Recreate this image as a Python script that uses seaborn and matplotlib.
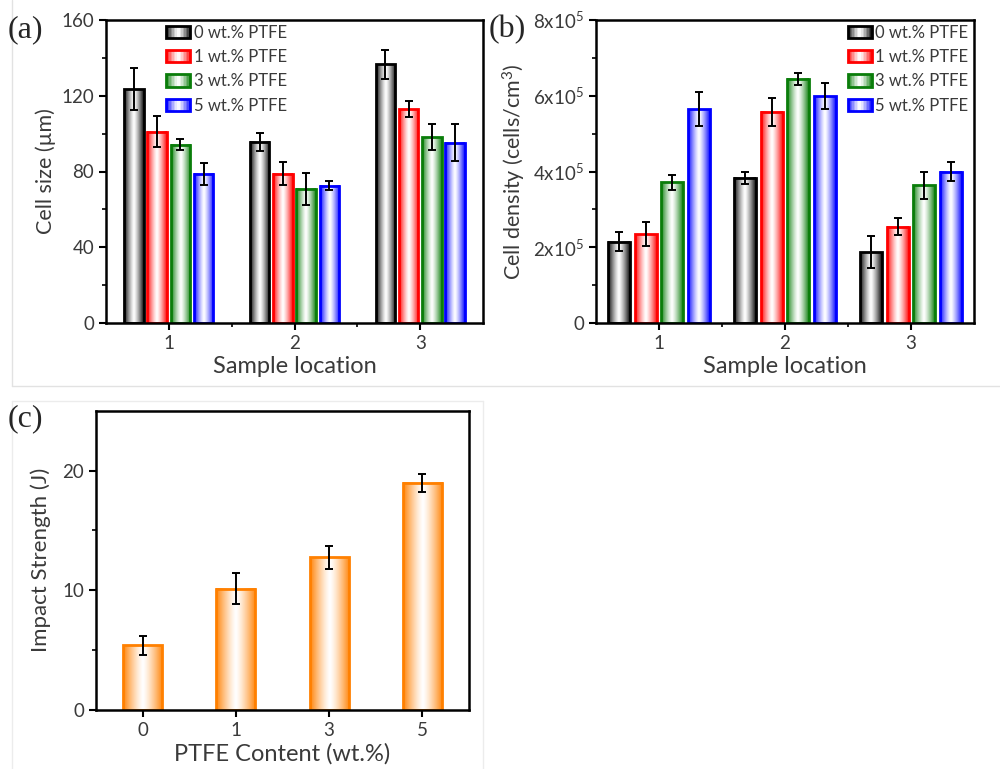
import numpy as np
import pandas as pd
import matplotlib
matplotlib.use("Agg")
import matplotlib.pyplot as plt
import seaborn as sns
from matplotlib.patches import Patch, Rectangle
from matplotlib.legend_handler import HandlerBase
from matplotlib.ticker import FixedLocator, FixedFormatter
from matplotlib.lines import Line2D
import matplotlib.colors as mcolors

# ---------------- data ----------------
locations = ["1", "2", "3"]
ptfe_levels = ["0 wt.% PTFE", "1 wt.% PTFE", "3 wt.% PTFE", "5 wt.% PTFE"]
level_colors = ["#000000", "#ff0000", "#0a7d0a", "#0000ff"]

# (a) cell size (um)
size_0 = [123.5, 95.6, 136.6]
size_1 = [101.0, 78.8, 113.0]
size_3 = [94.1, 70.8, 98.2]
size_5 = [78.7, 72.5, 95.2]
size_err_0 = [11.1, 4.6, 7.7]
size_err_1 = [8.2, 6.0, 4.0]
size_err_3 = [2.8, 8.3, 7.0]
size_err_5 = [5.9, 2.3, 9.8]

# (b) cell density (x10^5 cells/cm^3)
density_0 = [2.15, 3.83, 1.87]
density_1 = [2.34, 5.58, 2.54]
density_3 = [3.71, 6.45, 3.64]
density_5 = [5.65, 5.99, 4.00]
density_err_0 = [0.24, 0.17, 0.43]
density_err_1 = [0.32, 0.37, 0.22]
density_err_3 = [0.20, 0.16, 0.36]
density_err_5 = [0.44, 0.34, 0.26]

# (c) impact strength (J)
ptfe_content = ["0", "1", "3", "5"]
impact = [5.42, 10.14, 12.75, 18.97]
impact_err = [0.80, 1.30, 0.97, 0.72]
impact_color = "#ff8000"

density_ticks = [0, 2, 4, 6, 8]
density_ticklabels = ["0", r"$\mathregular{2x10^{5}}$", r"$\mathregular{4x10^{5}}$",
                      r"$\mathregular{6x10^{5}}$", r"$\mathregular{8x10^{5}}$"]

# ---------------- style ----------------
sns.set_theme(style="ticks")
plt.rcParams["font.family"] = ["Lato", "DejaVu Sans"]
plt.rcParams["mathtext.fontset"] = "custom"
plt.rcParams["mathtext.rm"] = "Lato"
plt.rcParams["mathtext.it"] = "Lato:italic"
plt.rcParams["mathtext.bf"] = "Lato:bold"
plt.rcParams["axes.edgecolor"] = "black"
plt.rcParams["axes.linewidth"] = 1.8

TXT = "#3a3a3a"
TICK_FS = 13.5
XLABEL_FS = 17
YLABEL_FS = 15.5
LEG_FS = 12


def grad_color(color, t):
    w = np.abs(2 * t - 1) ** 1.3
    c = np.array(mcolors.to_rgb(color))
    out = (1 - w)[:, None] * np.ones(3) + w[:, None] * (c * 0.95 + 0.05)
    return np.clip(out, 0.0, 1.0)


def add_gradients(ax, patch, color):
    x0, y0 = patch.get_x(), patch.get_y()
    w, h = patch.get_width(), patch.get_height()
    t = np.linspace(0, 1, 64)
    img = grad_color(color, t)[None, :, :]
    ax.imshow(img, extent=[x0, x0 + w, y0, y0 + h], aspect="auto",
              zorder=patch.get_zorder() - 0.01, interpolation="bilinear")


class GradientHandler(HandlerBase):
    def create_artists(self, legend, orig_handle, xdescent, ydescent,
                       width, height, fontsize, trans):
        color = orig_handle.get_edgecolor()
        n = 16
        t = (np.arange(n) + 0.5) / n
        cols = grad_color(color, t)
        arts = []
        for k in range(n):
            arts.append(Rectangle((-xdescent + k * width / n, -ydescent), width / n, height,
                                  facecolor=tuple(cols[k]), edgecolor="none", transform=trans))
        arts.append(Rectangle((-xdescent, -ydescent), width, height, fill=False,
                              edgecolor=color, linewidth=2, transform=trans))
        return arts


def style_axis(ax):
    for s in ax.spines.values():
        s.set_visible(True)
        s.set_linewidth(1.8)
        s.set_color("black")
    ax.tick_params(which="major", direction="out", length=5, width=1.5,
                   labelsize=TICK_FS, labelcolor=TXT, color="black", top=False, right=False)
    ax.tick_params(which="minor", direction="out", length=3, width=1.2,
                   color="black", top=False, right=False)


def grouped_panel(ax, series, errs, width, gap, ylabel):
    rows = []
    for lvl, vals in zip(ptfe_levels, series):
        for loc, v in zip(locations, vals):
            rows.append({"loc": loc, "val": v, "ptfe": lvl})
    df = pd.DataFrame(rows)
    sns.barplot(data=df, x="loc", y="val", hue="ptfe", order=locations,
                hue_order=ptfe_levels, palette=level_colors, fill=False,
                width=width, gap=gap, errorbar=None, linewidth=2, legend=False, ax=ax)
    bar_conts = list(ax.containers)
    for i, cont in enumerate(bar_conts):
        pats = sorted(cont.patches, key=lambda p: p.get_x())
        xs = []
        for p in pats:
            add_gradients(ax, p, level_colors[i])
            xs.append(p.get_x() + p.get_width() / 2)
        ax.errorbar(xs, series[i], yerr=errs[i], fmt="none", ecolor="black",
                    elinewidth=1.4, capsize=3, capthick=1.4, zorder=5)
    ax.set_xlim(-0.5, 2.5)
    ax.xaxis.set_minor_locator(FixedLocator([0.5, 1.5]))
    ax.set_xlabel("Sample location", fontsize=XLABEL_FS, color=TXT, labelpad=3)
    ax.set_ylabel(ylabel, fontsize=YLABEL_FS, color=TXT, labelpad=4)
    style_axis(ax)


fig = plt.figure(figsize=(10, 7.69), dpi=100)
fig.patch.set_facecolor("white")

# light panel frames
fig.add_artist(Line2D([0.012, 1.0], [1 - 386 / 769] * 2, color="#e2e2e2", lw=1))
fig.add_artist(Line2D([0.012, 0.012], [1 - 386 / 769, 1.0], color="#e2e2e2", lw=1))
fig.add_artist(Line2D([0.012, 0.483], [1 - 401 / 769] * 2, color="#ececec", lw=1))
fig.add_artist(Line2D([0.012, 0.012], [0.0, 1 - 401 / 769], color="#ececec", lw=1))
fig.add_artist(Line2D([0.483, 0.483], [0.0, 1 - 401 / 769], color="#ececec", lw=1))

# ---- (a) ----
axA = fig.add_axes([0.106, 1 - 323 / 769, 0.377, 303 / 769])
grouped_panel(axA, [size_0, size_1, size_3, size_5],
              [size_err_0, size_err_1, size_err_3, size_err_5],
              width=0.74, gap=0.16, ylabel="Cell size (µm)")
axA.set_ylim(0, 160)
axA.set_yticks([0, 40, 80, 120, 160])
axA.yaxis.set_minor_locator(FixedLocator([20, 60, 100, 140]))
handles = [Patch(edgecolor=c, facecolor="white") for c in level_colors]
axA.legend(handles, ptfe_levels, handler_map={Patch: GradientHandler()},
           loc="upper left", bbox_to_anchor=(0.16, 0.985), frameon=False,
           fontsize=LEG_FS, labelcolor=TXT, handlelength=1.45, handleheight=0.75,
           handletextpad=0.2, labelspacing=0.5, borderaxespad=0, borderpad=0)

# ---- (b) ----
axB = fig.add_axes([0.596, 1 - 323 / 769, 0.378, 303 / 769])
grouped_panel(axB, [density_0, density_1, density_3, density_5],
              [density_err_0, density_err_1, density_err_3, density_err_5],
              width=0.84, gap=0.17, ylabel=r"Cell density (cells/cm$^{3}$)")
axB.set_ylim(0, 8)
axB.yaxis.set_major_locator(FixedLocator(density_ticks))
axB.yaxis.set_major_formatter(FixedFormatter(density_ticklabels))
axB.yaxis.set_minor_locator(FixedLocator([1, 3, 5, 7]))
axB.legend(handles, ptfe_levels, handler_map={Patch: GradientHandler()},
           loc="upper right", bbox_to_anchor=(0.985, 0.985), frameon=False,
           fontsize=LEG_FS, labelcolor=TXT, handlelength=1.45, handleheight=0.75,
           handletextpad=0.2, labelspacing=0.5, borderaxespad=0, borderpad=0)

# ---- (c) ----
axC = fig.add_axes([0.096, 1 - 710 / 769, 0.373, 299.3 / 769])
sns.barplot(x=ptfe_content, y=impact, order=ptfe_content, fill=False, color=impact_color,
            width=0.42, errorbar=None, linewidth=2, ax=axC)
cont = axC.containers[0]
pats = sorted(cont.patches, key=lambda p: p.get_x())
xs = []
for p in pats:
    p.set_edgecolor(impact_color)
    add_gradients(axC, p, impact_color)
    xs.append(p.get_x() + p.get_width() / 2)
axC.errorbar(xs, impact, yerr=impact_err, fmt="none", ecolor="black",
             elinewidth=1.4, capsize=3, capthick=1.4, zorder=5)
axC.set_xlim(-0.5, 3.5)
axC.set_ylim(0, 25)
axC.set_yticks([0, 10, 20])
axC.yaxis.set_minor_locator(FixedLocator([5, 15]))
axC.set_xlabel("PTFE Content (wt.%)", fontsize=XLABEL_FS, color=TXT, labelpad=3)
axC.set_ylabel("Impact Strength (J)", fontsize=YLABEL_FS + 0.5, color=TXT, labelpad=8)
style_axis(axC)

# panel letters
fig.text(0.008, 0.962, "(a)", fontsize=23, family="Liberation Serif", va="center", ha="left")
fig.text(0.489, 0.962, "(b)", fontsize=23, family="Liberation Serif", va="center", ha="left")
fig.text(0.008, 0.455, "(c)", fontsize=23, family="Liberation Serif", va="center", ha="left")

fig.savefig("out.png", dpi=100, facecolor="white")
